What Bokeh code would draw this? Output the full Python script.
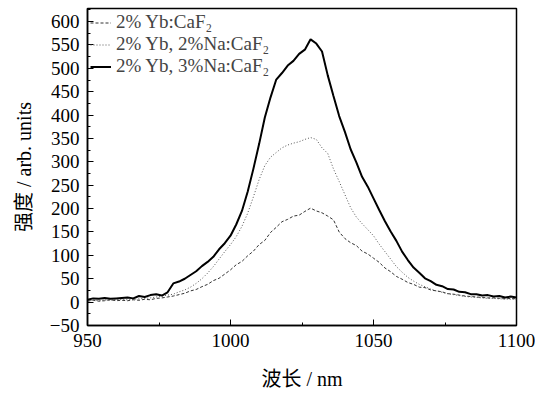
from bokeh.plotting import figure
from bokeh.models import FixedTicker, Range1d, Legend, LegendItem
from bokeh.embed import file_html
from bokeh.resources import INLINE

wavelength = list(range(950, 1101, 2))

yb2 = [2, 4, 2, 3, 5, 3, 4, 3, 5, 4, 6, 5, 8, 9, 11, 13, 16, 19, 24, 27,
       33, 38, 46, 51, 60, 69, 80, 87, 99, 109, 123, 132, 149, 160, 172, 177,
       184, 186, 194, 201, 195, 191, 184, 176, 150, 136, 127, 121, 109, 103,
       94, 85, 73, 65, 55, 49, 42, 38, 32, 31, 26, 24, 22, 18, 17, 15,
       13, 12, 11, 10, 9, 9, 8, 7, 8, 7]

yb2na2 = [3, 4, 3, 5, 4, 5, 6, 5, 6, 7, 8, 9, 11, 13, 15, 17, 22, 26, 32, 40,
          50, 62, 76, 92, 108, 123, 140, 162, 190, 225, 262, 292, 310, 320, 330, 336,
          340, 343, 348, 352, 348, 330, 318, 285, 258, 230, 202, 182, 168, 155,
          142, 124, 108, 92, 76, 64, 53, 45, 38, 33, 28, 24, 21, 18, 16, 14,
          12, 11, 10, 9, 8, 8, 7, 7, 6, 6]

yb2na3 = [5, 8, 7, 9, 7, 8, 9, 10, 8, 13, 11, 15, 17, 14, 21, 40, 44, 50, 58, 66,
          77, 86, 97, 113, 126, 142, 166, 195, 236, 285, 338, 395, 438, 476, 490, 506,
          516, 531, 540, 562, 553, 536, 485, 441, 398, 364, 327, 299, 268, 247,
          222, 197, 173, 151, 131, 108, 90, 74, 63, 51, 45, 37, 34, 28, 27, 22,
          21, 17, 17, 14, 15, 12, 13, 10, 12, 10]

labels = ["2% Yb:CaF\u2082", "2% Yb, 2%Na:CaF\u2082", "2% Yb, 3%Na:CaF\u2082"]

x_ticks = [950, 1000, 1050, 1100]
x_minor = [975, 1025, 1075]
y_ticks = list(range(-50, 601, 50))
y_minor = list(range(-25, 626, 50))

SERIF = "'Liberation Serif', 'Noto Sans CJK SC'"

p = figure(width=535, height=392, output_backend="svg", toolbar_location=None,
           x_range=Range1d(950, 1100), y_range=Range1d(-50, 628),
           min_border_left=87, min_border_right=19, min_border_top=8,
           min_border_bottom=64)
p.background_fill_color = "white"
p.border_fill_color = "white"
p.outline_line_color = "black"
p.outline_line_width = 1.5
p.grid.visible = False

r1 = p.line(wavelength, yb2, line_color="#333333", line_width=1, line_dash="3 2")
r2 = p.line(wavelength, yb2na2, line_color="#555555", line_width=1, line_dash="1 2")
r3 = p.line(wavelength, yb2na3, line_color="black", line_width=2)

legend = Legend(items=[LegendItem(label=labels[0], renderers=[r1]),
                       LegendItem(label=labels[1], renderers=[r2]),
                       LegendItem(label=labels[2], renderers=[r3])],
                location="top_left")
legend.border_line_color = None
legend.background_fill_alpha = 0
legend.label_text_font = SERIF
legend.label_text_font_size = "19px"
legend.glyph_width = 21
legend.glyph_height = 19
legend.label_height = 19
legend.label_standoff = 5
legend.spacing = 0
legend.padding = 3
legend.margin = 3
p.add_layout(legend)

for ax in (p.xaxis[0], p.yaxis[0]):
    ax.axis_line_color = "black"
    ax.axis_line_width = 1.5
    ax.major_tick_in = 6
    ax.major_tick_out = 0
    ax.minor_tick_in = 3
    ax.minor_tick_out = 0
    ax.major_tick_line_color = "black"
    ax.minor_tick_line_color = "black"
    ax.major_label_text_font = SERIF
    ax.major_label_text_font_size = "19px"
    ax.major_label_text_color = "black"
    ax.axis_label_text_font = SERIF
    ax.axis_label_text_font_size = "20px"
    ax.axis_label_text_font_style = "normal"
    ax.axis_label_text_color = "black"

p.xaxis[0].ticker = FixedTicker(ticks=x_ticks, minor_ticks=x_minor)
p.yaxis[0].ticker = FixedTicker(ticks=y_ticks, minor_ticks=y_minor)
p.xaxis[0].major_label_standoff = 8
p.yaxis[0].major_label_standoff = 8
p.xaxis[0].axis_label = "波长 / nm"
p.yaxis[0].axis_label = "强度 / arb. units"
p.xaxis[0].axis_label_standoff = 18
p.yaxis[0].axis_label_standoff = 12

open("out.html", "w").write(file_html(p, INLINE))
